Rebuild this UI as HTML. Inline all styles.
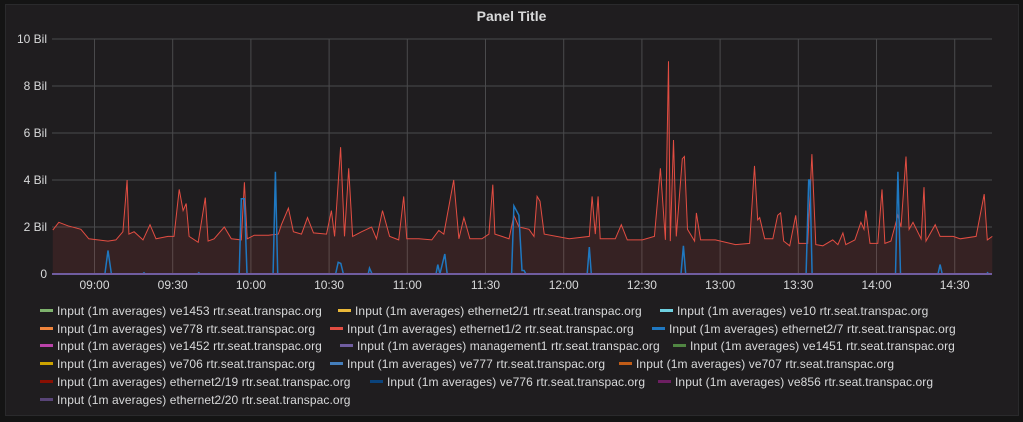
<!DOCTYPE html>
<html><head><meta charset="utf-8"><style>
html,body{margin:0;padding:0;background:#141414;width:1023px;height:422px;overflow:hidden;font-family:"Liberation Sans",sans-serif;}
#panel{position:absolute;left:5px;top:4px;width:1012px;height:410px;background:#1f1d1f;border:1px solid #2a2a2c;}
#title{position:absolute;left:0;top:8px;width:1023px;text-align:center;color:#d8d9da;font-weight:bold;font-size:14px;}
.li{position:absolute;font-size:12px;color:#d8d9da;white-space:nowrap;line-height:14px;letter-spacing:0.1px;}
.sw{display:inline-block;width:13px;height:3px;vertical-align:middle;margin-right:4px;position:relative;top:-1px;}
</style></head><body>
<div id="panel"></div>
<div id="title">Panel Title</div>
<svg id="chart" width="1023" height="422" style="position:absolute;left:0;top:0"></svg>
<div id="legend"></div>
<script>
const yTicks=[0,2,4,6,8,10];
const yTickLabels=["0","2 Bil","4 Bil","6 Bil","8 Bil","10 Bil"];
const xTicks=[540,570,600,630,660,690,720,750,780,810,840,870];
const xTickLabels=["09:00","09:30","10:00","10:30","11:00","11:30","12:00","12:30","13:00","13:30","14:00","14:30"];
// red series ethernet1/2: minutes offset from 08:44, values in Bil
const redTimes=[0,2.3,5.8,10.8,13.8,21.2,24.2,26.9,28.5,29.2,31.2,34.6,37.3,39.6,44.2,46.5,48.5,50,51.2,52.3,55.8,58.5,59.6,61.9,65.8,68.5,72.3,73.5,74.6,77.3,82.7,86.5,87.7,90.4,92.3,95.4,97.7,100,105,106.9,108.1,110.4,111.9,113.5,115,118.5,122.3,124.2,126.5,129.2,132.7,134.6,135.8,140.4,145.4,148.1,150,153.8,155.8,157.7,160,164.6,167.3,168.8,169.6,172.3,175,176.9,178.8,182.7,184.6,185.8,186.9,188.5,198.1,205.8,206.9,208.1,209.2,210,215.8,218.1,220.4,226.2,230.8,233.1,235,236.2,236.9,238.1,239.2,241.5,242.3,243.5,246.2,246.9,248.5,254.2,261.9,267.3,269.2,270.4,271.2,273.1,276.2,278.1,279.2,280.4,282.7,285,286.2,289.6,291.2,292.7,295.4,299.2,301.2,303.1,304.2,307.7,310,311.2,311.9,313.5,316.5,318.1,319.2,321.5,324.2,325.4,327.3,328.5,330,333.1,334.2,335,338.5,340.4,345.4,348.1,354.2,357.3,358.5,360.4];
const redValues=[1.87,2.2,2.05,1.9,1.5,1.4,1.45,1.8,4.0,1.7,1.8,1.45,2.1,1.5,1.6,1.6,3.6,2.7,3.0,1.6,1.35,3.25,1.4,1.5,2.0,1.5,1.45,3.9,1.5,1.65,1.65,1.7,2.1,2.8,1.8,1.7,2.4,1.75,1.7,2.7,1.6,5.4,1.6,4.5,1.6,1.8,2.0,1.5,2.7,1.6,1.45,3.3,1.5,1.5,1.45,1.85,1.7,4.0,1.5,2.4,1.5,1.5,1.7,3.8,1.7,1.6,1.5,2.5,2.0,1.9,1.6,3.3,3.1,1.7,1.5,1.6,3.3,1.7,3.3,1.5,1.5,2.1,1.45,1.45,1.6,4.5,1.45,9.05,1.4,5.7,1.6,4.9,5.0,1.9,1.4,2.6,1.45,1.45,1.25,1.3,4.6,2.3,2.4,1.5,1.5,2.5,2.6,1.4,1.2,2.5,1.3,1.3,5.1,1.25,1.2,1.45,1.25,1.75,1.25,1.45,2.2,1.9,2.7,1.3,1.3,3.6,1.3,1.4,2.5,2.0,5.0,1.9,2.2,1.5,3.7,1.4,2.1,1.6,1.6,1.5,1.6,3.4,1.45,1.6];
// blue series ethernet2/7
const blueTimes=[0,20,21.2,22.5,34.5,35,35.5,55.5,56,56.5,71.5,72.3,73.5,74.5,84.5,85.4,86.3,108.5,109.5,110.5,111.5,121,121.5,122.5,147,147.7,148.5,150.4,151.3,176,176.9,178.8,180,180.8,181.5,205,205.8,206.6,241,241.9,242.8,289,290,290.5,291.3,323.3,324.2,325.2,339.6,340.4,341.2,358.2,358.6,359];
const blueValues=[0,0,1.0,0,0,0.05,0,0,0.05,0,0,3.2,3.2,0,0,4.35,0,0,0.5,0.45,0,0,0.25,0,0,0.4,0,0.85,0,0,2.9,2.5,0.15,0.15,0,0,1.15,0,0,1.2,0,0,4.0,4.0,0,0,4.35,0,0,0.4,0,0,0.05,0];
const START=523.7, END=884.3;
const L=52,R=992,T=39,B=274;
function xs(m){return L+(m-START)*(R-L)/(END-START);}
function ys(v){return B-(v/10)*(B-T);}
const NS="http://www.w3.org/2000/svg";
const svg=document.getElementById('chart');
function mk(tag,attrs){const e=document.createElementNS(NS,tag);for(const k in attrs)e.setAttribute(k,attrs[k]);svg.appendChild(e);return e;}
yTicks.forEach((v,i)=>{
  const g=mk('line',{x1:L,x2:R,y1:ys(v),y2:ys(v),stroke:'#4a4a4c','stroke-width':1});
  
  
  const t=mk('text',{x:47,y:ys(v)+4,'text-anchor':'end',fill:'#d8d9da','font-size':12,'font-family':'Liberation Sans, sans-serif'});
  t.textContent=yTickLabels[i];
  
  
});
xTicks.forEach((m,i)=>{
  const g=mk('line',{x1:xs(m),x2:xs(m),y1:T,y2:B,stroke:'#4a4a4c','stroke-width':1});
  
  
  const t=mk('text',{x:xs(m),y:289,'text-anchor':'middle',fill:'#d8d9da','font-size':12,'font-family':'Liberation Sans, sans-serif'});
  t.textContent=xTickLabels[i];
  
  
});
function pts(times,vals){return times.map((t,i)=>xs(524+t).toFixed(1)+','+ys(vals[i]).toFixed(1));}
const rp=pts(redTimes,redValues);
const area=mk('polygon',{points:xs(524)+','+B+' '+rp.join(' ')+' '+xs(524+redTimes[redTimes.length-1])+','+B,fill:'rgba(226,77,66,0.12)'});


const red=mk('polyline',{points:rp.join(' '),fill:'none',stroke:'#E24D42','stroke-width':1});


const blue=mk('polyline',{points:pts(blueTimes,blueValues).join(' '),fill:'none',stroke:'#1F78C1','stroke-width':1.5});


const zl=mk('line',{x1:L,x2:R,y1:B,y2:B,stroke:'#705DA0','stroke-width':2});



const legendNames=["ve1453","ethernet2/1","ve10","ve778","ethernet1/2","ethernet2/7","ve1452","management1","ve1451","ve706","ve777","ve707","ethernet2/19","ve776","ve856","ethernet2/20"];
const legendColors=["#7EB26D","#EAB839","#6ED0E0","#EF843C","#E24D42","#1F78C1","#BA43A9","#705DA0","#508642","#CCA300","#447EBC","#C15C17","#890F02","#0A437C","#6D1F62","#584477"];
const lx=[40,338,660,40,330,652,40,340,673,40,330,619,40,370,658,40];
const ly=[304,321.5,339,357,375,393];
const leg=document.getElementById('legend');
legendNames.forEach((n,i)=>{
  const d=document.createElement('div');
  d.className='li';
  d.style.left=lx[i]+'px';
  d.style.top=ly[Math.floor(i/3)]+'px';
  d.innerHTML='<span class="sw" style="background:'+legendColors[i]+'"></span>Input (1m averages) '+n+' rtr.seat.transpac.org';
  
  
  leg.appendChild(d);
});
</script>
</body></html>
